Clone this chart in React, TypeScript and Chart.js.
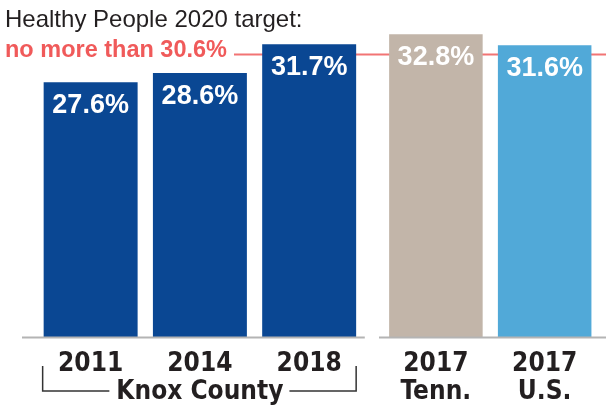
import { useEffect, useRef } from 'react';
import { Chart, registerables } from 'chart.js';

Chart.register(...registerables);

// ---- data ----
const knoxLabels: (string | string[])[] = ['2011', ['2014', 'Knox County'], '2018'];
const knoxValues = [27.6, 28.6, 31.7];
const compareLabels: string[][] = [['2017', 'Tenn.'], ['2017', 'U.S.']];
const compareValues = [32.8, 31.6];
const compareColors = ['#c2b5a9', '#51a9d8'];
const knoxColor = '#0a4793';
const targetValue = 30.6;
const titleText = 'Healthy People 2020 target:';
const targetText = 'no more than 30.6%';
const yMax = 36.5;

const SANS = '"Liberation Sans", Arial, sans-serif';
const NARROW = '"DejaVu Sans Condensed", "Liberation Sans", sans-serif';
const TARGET_FONT = `bold 23.5px ${SANS}`;
const TICK_SIZE = 26;

const annotations = {
  id: 'annotations',
  beforeDatasetsDraw(chart: any) {
    const ctx = chart.ctx;
    const y = chart.scales.y.getPixelForValue(targetValue);
    ctx.save();
    ctx.font = TARGET_FONT;
    const start = 5 + ctx.measureText(targetText).width + 7;
    ctx.strokeStyle = '#f27474';
    ctx.lineWidth = 2;
    ctx.beginPath();
    ctx.moveTo(start, y);
    ctx.lineTo(chart.width, y);
    ctx.stroke();
    ctx.restore();
  },
  afterDatasetsDraw(chart: any) {
    const ctx = chart.ctx;
    ctx.save();
    // value labels
    ctx.font = `bold 27px ${SANS}`;
    ctx.fillStyle = '#ffffff';
    ctx.textAlign = 'center';
    ctx.textBaseline = 'alphabetic';
    chart.data.datasets.forEach((ds: any, di: number) => {
      const meta = chart.getDatasetMeta(di);
      meta.data.forEach((bar: any, i: number) => {
        ctx.fillText(`${Number(ds.data[i]).toFixed(1)}%`, bar.x, bar.y + 31);
      });
    });
    // baselines
    const xa = chart.scales.x;
    const xb = chart.scales.x2;
    const by = chart.chartArea.bottom + 0.5;
    ctx.strokeStyle = '#b4b4b4';
    ctx.lineWidth = 2;
    ctx.beginPath();
    ctx.moveTo(xa.left - 14, by);
    ctx.lineTo(xa.right + 1, by);
    ctx.moveTo(xb.left - 2.5, by);
    ctx.lineTo(chart.width, by);
    ctx.stroke();
    ctx.restore();
  },
  afterDraw(chart: any) {
    const ctx = chart.ctx;
    ctx.save();
    // header
    ctx.textAlign = 'left';
    ctx.textBaseline = 'alphabetic';
    ctx.fillStyle = '#231f20';
    ctx.font = `24px ${SANS}`;
    ctx.fillText(titleText, 5, 27);
    ctx.fillStyle = '#f05a5a';
    ctx.font = TARGET_FONT;
    ctx.fillText(targetText, 5, 57);

    // Knox County bracket
    const meta = chart.getDatasetMeta(0);
    const b0 = meta.data[0];
    const b1 = meta.data[1];
    const b2 = meta.data[meta.data.length - 1];
    const left = b0.x - b0.width / 2 - 1;
    const right = b2.x + b2.width / 2;
    ctx.font = `bold ${TICK_SIZE}px ${NARROW}`;
    const tw = ctx.measureText('Knox County').width;
    const ty = 391;
    ctx.strokeStyle = '#333333';
    ctx.lineWidth = 1.5;
    ctx.beginPath();
    ctx.moveTo(left, 366);
    ctx.lineTo(left, ty);
    ctx.lineTo(b1.x - tw / 2 - 7, ty);
    ctx.moveTo(b1.x + tw / 2 + 6, ty);
    ctx.lineTo(right, ty);
    ctx.lineTo(right, 366);
    ctx.stroke();
    ctx.restore();
  },
};

const tickFont = { family: NARROW, size: TICK_SIZE, weight: 'bold' as const, lineHeight: 28 / TICK_SIZE };
const hiddenGrid = { display: false, drawTicks: true, tickLength: 13 };

export default function App() {
  const ref = useRef<HTMLCanvasElement | null>(null);

  useEffect(() => {
    if (!ref.current) return;
    const fixHeight = (s: any) => {
      s.height = 68;
    };
    const chart = new Chart(ref.current, {
      type: 'bar',
      data: {
        datasets: [
          {
            data: knoxValues,
            xAxisID: 'x',
            yAxisID: 'y',
            backgroundColor: knoxColor,
            grouped: false,
            categoryPercentage: 1,
            barPercentage: 0.86,
          },
          {
            data: compareValues,
            xAxisID: 'x2',
            yAxisID: 'y',
            backgroundColor: compareColors,
            grouped: false,
            categoryPercentage: 1,
            barPercentage: 0.86,
          },
        ],
      },
      options: {
        responsive: false,
        animation: false,
        events: [],
        layout: { padding: { left: 36, right: 4, top: 0, bottom: 0 } },
        plugins: { legend: { display: false }, tooltip: { enabled: false } },
        scales: {
          x: {
            type: 'category',
            labels: knoxLabels as any,
            position: 'bottom',
            stack: 'bottom',
            stackWeight: 328.5,
            weight: 1,
            offset: true,
            grid: hiddenGrid,
            border: { display: false },
            ticks: { color: '#231f20', font: tickFont, padding: 0, maxRotation: 0, autoSkip: false },
            afterFit: fixHeight,
          },
          gap: {
            type: 'category',
            axis: 'x',
            labels: [''],
            position: 'bottom',
            stack: 'bottom',
            stackWeight: 17.75,
            weight: 2,
            offset: true,
            grid: { display: false, drawTicks: false },
            border: { display: false },
            ticks: { display: false, padding: 0 },
            afterFit: fixHeight,
          },
          x2: {
            type: 'category',
            axis: 'x',
            labels: compareLabels as any,
            position: 'bottom',
            stack: 'bottom',
            stackWeight: 218,
            weight: 3,
            offset: true,
            grid: hiddenGrid,
            border: { display: false },
            ticks: { color: '#231f20', font: tickFont, padding: 0, maxRotation: 0, autoSkip: false },
            afterFit: fixHeight,
          },
          y: {
            display: false,
            min: 0,
            max: yMax,
          },
        } as any,
      },
      plugins: [annotations],
    });
    return () => chart.destroy();
  }, []);

  return (
    <div style={{ position: 'absolute', left: 0, top: 0, width: 606, height: 405, background: '#fff' }}>
      <canvas ref={ref} width={606} height={405} style={{ display: 'block', width: 606, height: 405 }} />
    </div>
  );
}
